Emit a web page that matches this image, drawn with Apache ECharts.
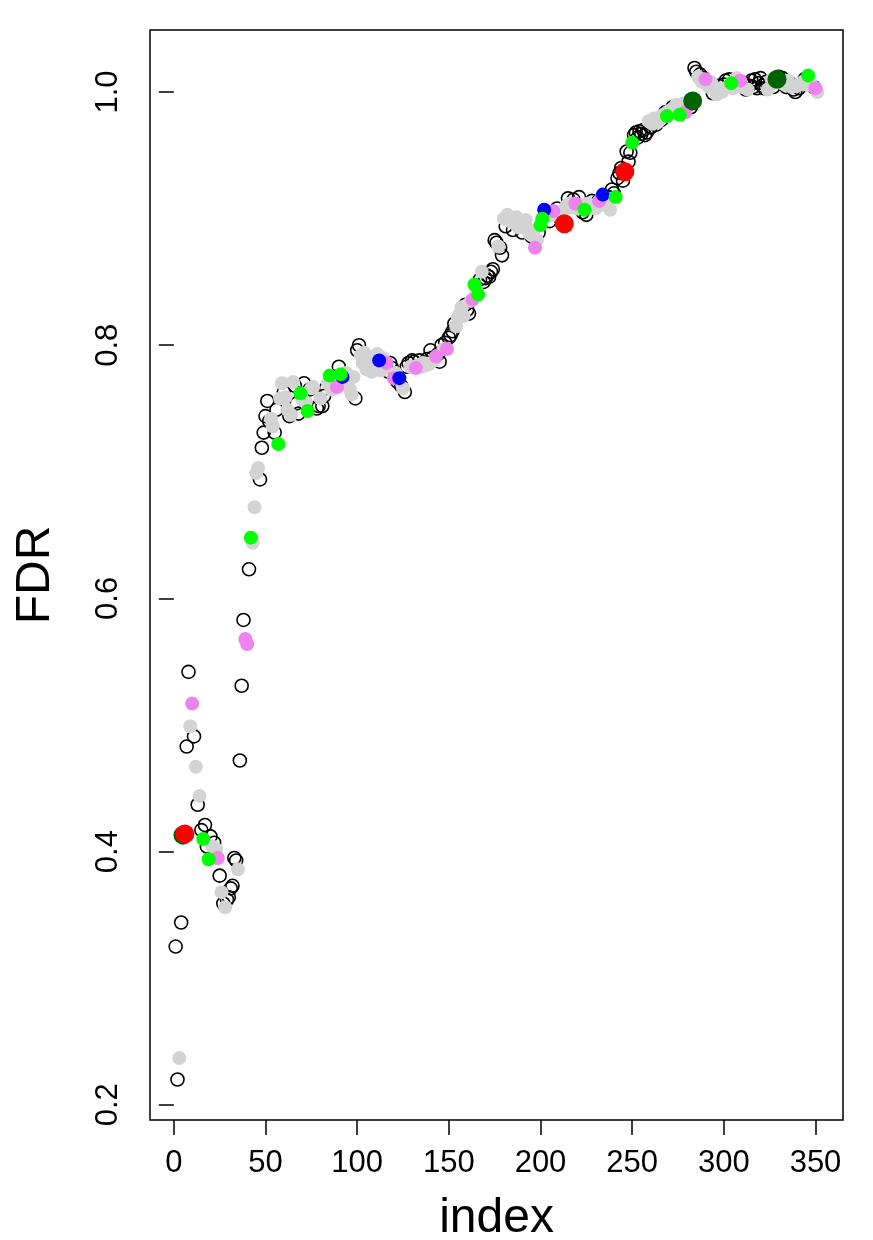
<!DOCTYPE html>
<html>
<head>
<meta charset="utf-8">
<script src="https://cdn.jsdelivr.net/npm/echarts@6/dist/echarts.min.js"></script>
<style>
html, body { margin: 0; padding: 0; background: #fff; }
#main { width: 873px; height: 1240px; }
</style>
</head>
<body>
<div id="main"></div>
<script>
// FDR by index (index 1..351)
var fdr = [
	0.325, 0.220, 0.237, 0.344, 0.413, 0.414, 0.483, 0.542, 0.499, 0.517,
	0.491, 0.467, 0.437, 0.444, 0.417, 0.410, 0.421, 0.404, 0.394, 0.412,
	0.404, 0.407, 0.402, 0.395, 0.381, 0.368, 0.359, 0.356, 0.362, 0.364,
	0.371, 0.373, 0.395, 0.393, 0.386, 0.472, 0.531, 0.583, 0.568, 0.564,
	0.623, 0.648, 0.644, 0.672, 0.699, 0.703, 0.694, 0.719, 0.731, 0.744,
	0.756, 0.740, 0.742, 0.736, 0.731, 0.749, 0.722, 0.758, 0.770, 0.763,
	0.759, 0.749, 0.744, 0.745, 0.771, 0.768, 0.754, 0.746, 0.762, 0.757,
	0.770, 0.755, 0.748, 0.765, 0.766, 0.767, 0.760, 0.750, 0.752, 0.758,
	0.752, 0.760, 0.766, 0.770, 0.776, 0.765, 0.770, 0.775, 0.767, 0.783,
	0.777, 0.775, 0.776, 0.778, 0.772, 0.765, 0.761, 0.775, 0.758, 0.796,
	0.800, 0.792, 0.786, 0.794, 0.781, 0.790, 0.784, 0.779, 0.788, 0.783,
	0.793, 0.788, 0.780, 0.790, 0.782, 0.786, 0.779, 0.786, 0.782, 0.774,
	0.778, 0.771, 0.774, 0.768, 0.766, 0.763, 0.783, 0.786, 0.783, 0.788,
	0.787, 0.782, 0.784, 0.788, 0.783, 0.786, 0.784, 0.789, 0.785, 0.796,
	0.790, 0.788, 0.791, 0.793, 0.787, 0.800, 0.797, 0.802, 0.797, 0.806,
	0.808, 0.811, 0.817, 0.815, 0.822, 0.825, 0.830, 0.823, 0.832, 0.828,
	0.825, 0.835, 0.836, 0.848, 0.843, 0.840, 0.852, 0.858, 0.850, 0.853,
	0.855, 0.854, 0.858, 0.860, 0.883, 0.881, 0.878, 0.877, 0.871, 0.900,
	0.894, 0.903, 0.898, 0.900, 0.891, 0.896, 0.901, 0.893, 0.897, 0.889,
	0.893, 0.899, 0.892, 0.888, 0.886, 0.890, 0.877, 0.883, 0.889, 0.895,
	0.900, 0.907, 0.905, 0.902, 0.898, 0.905, 0.906, 0.903, 0.908, 0.904,
	0.900, 0.906, 0.896, 0.910, 0.916, 0.912, 0.909, 0.915, 0.912, 0.908,
	0.917, 0.911, 0.905, 0.907, 0.903, 0.912, 0.909, 0.914, 0.910, 0.908,
	0.913, 0.914, 0.911, 0.919, 0.915, 0.912, 0.917, 0.907, 0.923, 0.920,
	0.917, 0.932, 0.936, 0.940, 0.930, 0.937, 0.953, 0.945, 0.952, 0.960,
	0.966, 0.968, 0.964, 0.969, 0.967, 0.970, 0.966, 0.968, 0.977, 0.972,
	0.975, 0.979, 0.974, 0.976, 0.980, 0.978, 0.982, 0.984, 0.981, 0.985,
	0.983, 0.988, 0.986, 0.990, 0.985, 0.982, 0.988, 0.991, 0.984, 0.989,
	0.990, 0.988, 0.993, 1.019, 1.016, 1.012, 1.014, 1.008, 1.011, 1.010,
	1.006, 1.004, 1.008, 0.999, 1.002, 0.998, 1.005, 1.003, 1.000, 1.006,
	1.009, 1.004, 1.010, 1.007, 1.003, 1.008, 1.011, 1.006, 1.009, 1.004,
	1.007, 1.002, 1.002, 1.005, 1.009, 1.004, 1.010, 1.003, 1.007, 1.011,
	1.005, 1.003, 1.008, 1.002, 1.006, 1.010, 1.004, 1.008, 1.010, 1.012,
	1.008, 1.011, 1.006, 1.004, 1.009, 1.007, 1.004, 1.002, 1.000, 1.005,
	1.003, 1.007, 1.008, 1.010, 1.006, 1.013, 1.009, 1.005, 1.004, 1.003,
	1.000
];

// which indices get a coloured dot (the rest are open circles)
var grayIdx = [3, 9, 12, 14, 21, 23, 26, 28, 35, 43, 44, 45, 46, 53, 54, 58, 59, 61, 62, 64, 65, 70, 72, 75, 76, 80,
	84, 86, 87, 94, 95, 96, 97, 98, 102, 103, 104, 105, 106, 107, 108, 109, 110, 111, 113, 114, 115, 121, 125, 129,
	133, 135, 136, 137, 139, 142, 147, 154, 155, 156, 157, 158, 162, 165, 168, 177, 180, 182, 183, 184, 186, 187,
	188, 189, 191, 192, 193, 194, 196, 198, 204, 206, 208, 210, 212, 214, 216, 217, 220, 222, 226, 227, 229, 230,
	233, 235, 236, 238, 259, 261, 262, 264, 265, 267, 270, 271, 273, 274, 277, 278, 281, 286, 288, 291, 292, 293,
	295, 296, 298, 299, 302, 305, 307, 308, 310, 313, 324, 326, 328, 331, 333, 335, 337, 340, 342, 343, 345, 347,
	348, 351];
var greenIdx = [16, 19, 42, 57, 69, 73, 85, 91, 164, 166, 200, 201, 224, 241, 250, 269, 276, 304, 346];
var violetIdx = [10, 24, 39, 40, 89, 116, 120, 132, 143, 149, 163, 197, 207, 219, 232, 279, 290, 309, 350];
var blueIdx = [92, 112, 123, 202, 234];
var redIdx = [6, 213, 246];
var darkGreenIdx = [5, 283, 329];

var xTicks = [0, 50, 100, 150, 200, 250, 300, 350];
var yTicks = [0.2, 0.4, 0.6, 0.8, 1.0];

function pts(idx) {
	return idx.map(function (i) { return [i, fdr[i - 1]]; });
}

var marked = {};
[grayIdx, greenIdx, violetIdx, blueIdx, redIdx, darkGreenIdx].forEach(function (a) {
	a.forEach(function (i) { marked[i] = true; });
});
var openIdx = [];
for (var i = 1; i <= fdr.length; i++) {
	if (!marked[i]) openIdx.push(i);
}

var font = 'Liberation Sans, Arial, Helvetica, sans-serif';

function dots(idx, color, size) {
	return {
		type: 'scatter',
		data: pts(idx),
		symbol: 'circle',
		symbolSize: size,
		itemStyle: { color: color, borderWidth: 0, opacity: 1 },
		emphasis: { disabled: true }
	};
}

var myChart = echarts.init(document.getElementById('main'));

option = {
	animation: false,
	backgroundColor: '#fff',
	grid: {
		left: 150,
		top: 30,
		right: 30,
		bottom: 120,
		containLabel: false,
		outerBoundsMode: 'none',
		show: true,
		borderColor: '#000',
		borderWidth: 1.5,
		backgroundColor: 'transparent'
	},
	xAxis: {
		type: 'value',
		min: -13,
		max: 365,
		splitLine: { show: false },
		axisLine: { show: false },
		axisTick: {
			show: true,
			length: 15,
			customValues: xTicks,
			lineStyle: { color: '#000', width: 1.5 }
		},
		axisLabel: {
			customValues: xTicks,
			margin: 28,
			fontSize: 31,
			color: '#000',
			fontFamily: font
		},
		name: 'index',
		nameLocation: 'middle',
		nameGap: 75,
		nameTextStyle: { fontSize: 48, color: '#000', fontFamily: font }
	},
	yAxis: {
		type: 'value',
		min: 0.188,
		max: 1.049,
		splitLine: { show: false },
		axisLine: { show: false },
		axisTick: {
			show: true,
			length: 15,
			customValues: yTicks,
			lineStyle: { color: '#000', width: 1.5 }
		},
		axisLabel: {
			customValues: yTicks,
			rotate: 90,
			margin: 26,
			fontSize: 31,
			color: '#000',
			fontFamily: font,
			formatter: function (v) { return v.toFixed(1); }
		},
		name: 'FDR',
		nameLocation: 'middle',
		nameGap: 90,
		nameTextStyle: { fontSize: 48, color: '#000', fontFamily: font }
	},
	series: [
		{
			type: 'scatter',
			data: pts(openIdx),
			symbol: 'circle',
			symbolSize: 13,
			itemStyle: { color: 'rgba(0,0,0,0)', borderColor: '#000', borderWidth: 1.6, opacity: 1 },
			emphasis: { disabled: true }
		},
		dots(grayIdx, '#D3D3D3', 14),
		dots(violetIdx, '#EE82EE', 14),
		dots(blueIdx, '#0000FF', 14),
		dots(greenIdx, '#00FF00', 14),
		dots(darkGreenIdx, '#006400', 19),
		dots(redIdx, '#FF0000', 19)
	]
};

myChart.setOption(option);
</script>
</body>
</html>
